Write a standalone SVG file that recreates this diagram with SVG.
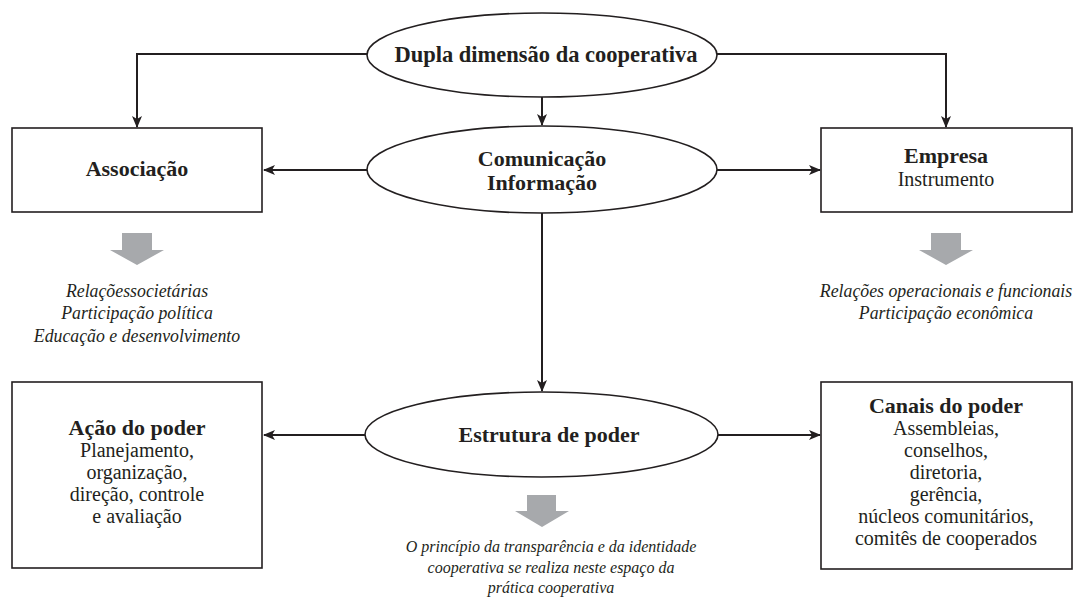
<svg xmlns="http://www.w3.org/2000/svg" width="1074" height="602" viewBox="0 0 1074 602">
<defs>
<marker id="ah" markerWidth="12" markerHeight="10" refX="11" refY="5" orient="auto" markerUnits="userSpaceOnUse">
<path d="M0,0 L12,5 L0,10 L3,5 Z" fill="#231f20"/>
</marker>
<style>
.shape{fill:#fff;stroke:#231f20;stroke-width:1.6}
.con{fill:none;stroke:#231f20;stroke-width:2}
.gray{fill:#a7a9ac}
text{font-family:"Liberation Serif","Times New Roman",serif;fill:#231f20;text-anchor:middle}
.b{font-weight:bold;font-size:22px}
.r{font-size:20px}
.i{font-style:italic;font-size:17.8px}
.i2{font-style:italic;font-size:16px}
</style>
</defs>
<rect width="1074" height="602" fill="#fff"/>
<g id="connectors">
<path class="con" d="M367,54 H137 V127" marker-end="url(#ah)"/>
<path class="con" d="M717,54 H946 V127" marker-end="url(#ah)"/>
<path class="con" d="M542,97 V125" marker-end="url(#ah)"/>
<path class="con" d="M367,170 H264" marker-end="url(#ah)"/>
<path class="con" d="M717,170 H820" marker-end="url(#ah)"/>
<path class="con" d="M542,213 V391" marker-end="url(#ah)"/>
<path class="con" d="M365,435 H264" marker-end="url(#ah)"/>
<path class="con" d="M718,435 H820" marker-end="url(#ah)"/>
</g>
<g id="dupla">
<ellipse class="shape" cx="542" cy="55" rx="175" ry="42"/>
<text class="b" x="546" y="62" style="font-size:22.5px">Dupla dimensão da cooperativa</text>
</g>
<g id="comunicacao">
<ellipse class="shape" cx="542" cy="169.5" rx="175" ry="43.5"/>
<text class="b" x="542" y="166">Comunicação</text>
<text class="b" x="542" y="190">Informação</text>
</g>
<g id="associacao">
<rect class="shape" x="12" y="128" width="250" height="84"/>
<text class="b" x="137" y="176">Associação</text>
</g>
<g id="empresa">
<rect class="shape" x="821" y="128" width="251" height="84"/>
<text class="b" x="946" y="163">Empresa</text>
<text class="r" x="946" y="186">Instrumento</text>
</g>
<g id="seta-associacao">
<path class="gray" d="M122,233 H152 V250 H164 L137,265 L110,250 H122 Z"/>
<text class="i" x="137" y="297">Relaçõessocietárias</text>
<text class="i" x="137" y="319">Participação política</text>
<text class="i" x="137" y="342">Educação e desenvolvimento</text>
</g>
<g id="seta-empresa">
<path class="gray" d="M931,233 H961 V250 H973 L946,265 L919,250 H931 Z"/>
<text class="i" x="946" y="297">Relações operacionais e funcionais</text>
<text class="i" x="946" y="319">Participação econômica</text>
</g>
<g id="estrutura">
<ellipse class="shape" cx="541.5" cy="434.5" rx="176.5" ry="42.5"/>
<text class="b" x="549" y="442">Estrutura de poder</text>
</g>
<g id="seta-estrutura">
<path class="gray" d="M527,495 H556 V511 H569 L542,527 L515,511 H527 Z"/>
<text class="i2" x="551" y="552">O princípio da transparência e da identidade</text>
<text class="i2" x="551" y="573">cooperativa se realiza neste espaço da</text>
<text class="i2" x="551" y="593">prática cooperativa</text>
</g>
<g id="acao">
<rect class="shape" x="12" y="382" width="250" height="186"/>
<text class="b" x="137" y="435">Ação do poder</text>
<text class="r" x="137" y="457">Planejamento,</text>
<text class="r" x="137" y="479">organização,</text>
<text class="r" x="137" y="501">direção, controle</text>
<text class="r" x="137" y="523">e avaliação</text>
</g>
<g id="canais">
<rect class="shape" x="821" y="382" width="251" height="187"/>
<text class="b" x="946" y="413">Canais do poder</text>
<text class="r" x="946" y="435">Assembleias,</text>
<text class="r" x="946" y="457">conselhos,</text>
<text class="r" x="946" y="479">diretoria,</text>
<text class="r" x="946" y="501">gerência,</text>
<text class="r" x="946" y="523">núcleos comunitários,</text>
<text class="r" x="946" y="545">comitês de cooperados</text>
</g>
</svg>
